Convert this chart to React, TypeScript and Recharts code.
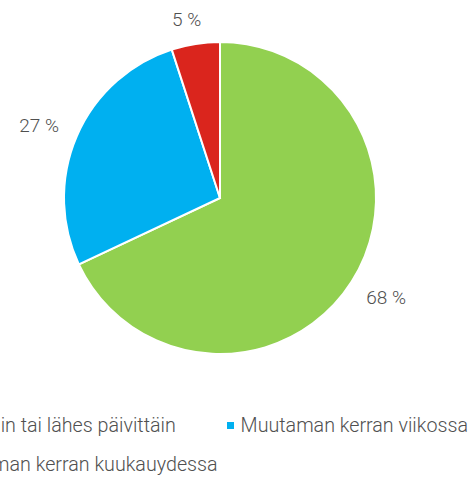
import React from 'react';
import { PieChart, Pie, Cell, Legend } from 'recharts';

const categories = ['Päivittäin tai lähes päivittäin', 'Muutaman kerran viikossa', 'Muutaman kerran kuukauydessa'];
const values = [68, 27, 5];
const colors = ['#92D050', '#00B0F0', '#DA251D'];

const data = categories.map((name, i) => ({ name, value: values[i] }));

const FONT = 'Roboto, "Liberation Sans", Arial, sans-serif';
const RAD = Math.PI / 180;

const renderLabel = (props: any) => {
  const { cx, cy, midAngle, outerRadius, value } = props;
  const a = midAngle + 1.6;
  const c = Math.cos(-a * RAD);
  const s = Math.sin(-a * RAD);
  const r = outerRadius + 22 + 18 * Math.abs(c);
  const x = cx + r * c;
  const y = cy + r * s;
  return (
    <text x={x} y={y} textAnchor="middle" dominantBaseline="central" fill="#505050" fontSize={19} fontWeight={300} fontFamily={FONT}>
      {`${value} %`}
    </text>
  );
};

const renderLegend = () => (
  <div
    style={{
      position: 'absolute',
      right: 7,
      top: 0,
      display: 'grid',
      gridTemplateColumns: 'auto auto',
      columnGap: 9,
      rowGap: 0,
      fontFamily: FONT,
      fontSize: 19.7,
      fontWeight: 300,
      lineHeight: '39px',
      color: '#505050',
      whiteSpace: 'nowrap',
    }}
  >
    {data.map((d, i) => (
      <div key={d.name} style={{ display: 'flex', alignItems: 'center' }}>
        <span style={{ display: 'inline-block', width: 7, height: 7, background: colors[i], marginRight: 7 }} />
        <span>{d.name}</span>
      </div>
    ))}
  </div>
);

export default function App() {
  return (
    <div style={{ position: 'fixed', left: 0, top: 0, width: 475, height: 477, background: '#fff', overflow: 'hidden' }}>
      <PieChart width={475} height={477} margin={{ top: 0, right: 0, bottom: 0, left: 0 }}>
        <Pie
          data={data}
          dataKey="value"
          nameKey="name"
          cx={220}
          cy={198}
          outerRadius={156}
          startAngle={90}
          endAngle={-270}
          stroke="#ffffff"
          strokeWidth={2}
          label={renderLabel}
          labelLine={false}
          isAnimationActive={false}
        >
          {data.map((d, i) => (
            <Cell key={d.name} fill={colors[i]} />
          ))}
        </Pie>
        <Legend content={renderLegend} wrapperStyle={{ position: 'absolute', left: 0, top: 406, width: 475, height: 71 }} />
      </PieChart>
    </div>
  );
}
